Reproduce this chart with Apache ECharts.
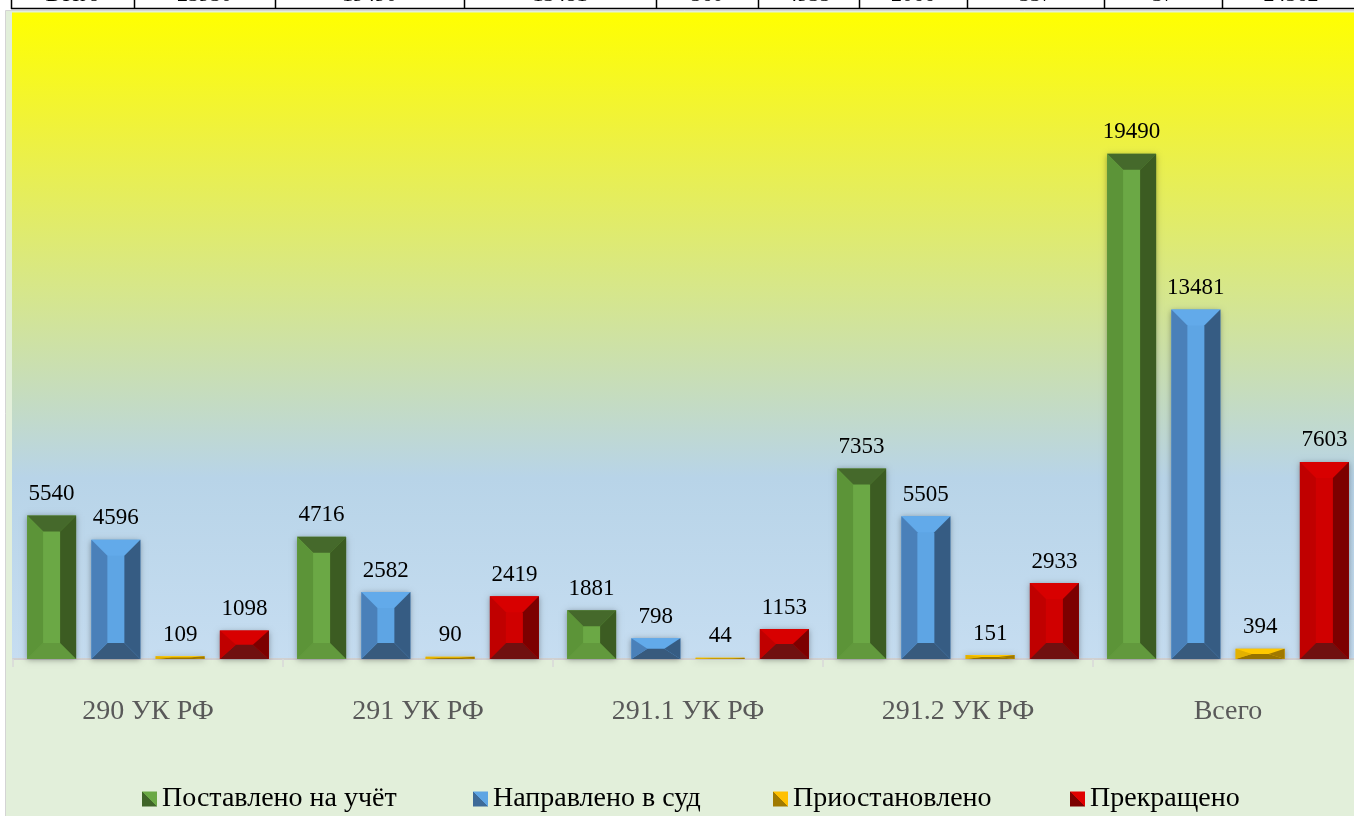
<!DOCTYPE html>
<html>
<head>
<meta charset="utf-8">
<script src="https://cdn.jsdelivr.net/npm/echarts@6/dist/echarts.min.js"></script>
<style>
  html, body { margin: 0; padding: 0; background: #fff; overflow: hidden; }
  #chart { width: 1363px; height: 816px; }
</style>
</head>
<body>
<div id="chart"></div>
<script>
  // данные диаграммы
  var categories = ['290 УК РФ', '291 УК РФ', '291.1 УК РФ', '291.2 УК РФ', 'Всего'];
  var seriesNames = ['Поставлено на учёт', 'Направлено в суд', 'Приостановлено', 'Прекращено'];
  var registered = [5540, 4716, 1881, 7353, 19490];
  var toCourt = [4596, 2582, 798, 5505, 13481];
  var suspended = [109, 90, 44, 151, 394];
  var terminated = [1098, 2419, 1153, 2933, 7603];
  // обрезанная строка таблицы сверху
  var tableCells = ['Всего', '25950', '19490', '13481', '560', '4935', '2066', '337', '37', '24562'];

  var allValues = [registered, toCourt, suspended, terminated];
  var tableColX = [11, 134, 275, 464, 656, 758, 859, 967, 1104, 1222, 1360];
  var legendLeft = [137, 468, 768, 1065];

  // цвета граней "скоса": верх, лево, центр, право, низ
  var faces = [
    { top: '#45692b', left: '#5c9438', mid: '#6ba845', right: '#3c5c22', bottom: '#62993d', dark: '#3f6428', light: '#6aa845' },
    { top: '#62aaea', left: '#4a80b9', mid: '#5ea5e4', right: '#365c83', bottom: '#385a7d', dark: '#3d6a98', light: '#5ea5e4' },
    { top: '#ffc800', left: '#e3b100', mid: '#f5c000', right: '#a07800', bottom: '#987300', dark: '#a07a00', light: '#ffc000' },
    { top: '#d80000', left: '#c00000', mid: '#d00000', right: '#7c0000', bottom: '#701010', dark: '#7c0000', light: '#e00000' }
  ];

  function iconGradient(f) {
    return new echarts.graphic.LinearGradient(0, 1, 1, 0, [
      { offset: 0, color: f.dark }, { offset: 0.5, color: f.dark },
      { offset: 0.5, color: f.light }, { offset: 1, color: f.light }
    ]);
  }

  function poly(pts, color) {
    return { type: 'polygon', shape: { points: pts }, style: { fill: color } };
  }

  function makeRender(si) {
    return function (params, api) {
      var ci = api.value(0), v = api.value(1);
      var base = api.coord([ci, 0]);
      var top = api.coord([ci, v]);
      var catW = api.size([1, 0])[0];
      var bw = catW * 0.1815, step = catW * 0.238;
      var cx = base[0] + (si - 1.5) * step;
      var x0 = cx - bw / 2, x1 = cx + bw / 2, yt = top[1], yb = base[1];
      var h = yb - yt;
      var bx = Math.min(16, bw / 2), by = Math.min(16, h / 2);
      var f = faces[si];
      return {
        type: 'group',
        children: [
          { type: 'rect', shape: { x: x0, y: yt, width: bw, height: h },
            style: { fill: f.mid, shadowBlur: 6, shadowColor: 'rgba(0,0,0,0.35)', shadowOffsetY: 1 } },
          poly([[x0, yt], [x1, yt], [x1 - bx, yt + by], [x0 + bx, yt + by]], f.top),
          poly([[x0, yb], [x1, yb], [x1 - bx, yb - by], [x0 + bx, yb - by]], f.bottom),
          poly([[x0, yt], [x0 + bx, yt + by], [x0 + bx, yb - by], [x0, yb]], f.left),
          poly([[x1, yt], [x1 - bx, yt + by], [x1 - bx, yb - by], [x1, yb]], f.right),
          { type: 'text', x: cx, y: yt - 10,
            style: { text: String(v), fill: '#000', font: '23px "Liberation Serif"', align: 'center', verticalAlign: 'bottom' } }
        ]
      };
    };
  }

  var graphics = [
    { type: 'rect', z: -100, silent: true, shape: { x: 5.5, y: 10.5, width: 1400, height: 820 },
      style: { fill: '#e2efda', stroke: '#d4d4d4', lineWidth: 1 } },
    { type: 'rect', z: -90, silent: true, shape: { x: 12, y: 12.5, width: 1400, height: 646.5 },
      style: { fill: new echarts.graphic.LinearGradient(0, 0, 0, 1, [
        { offset: 0, color: '#ffff00' },
        { offset: 0.18, color: '#eff23c' },
        { offset: 0.44, color: '#d5e68e' },
        { offset: 0.72, color: '#b8d4e8' },
        { offset: 1, color: '#c6ddf1' }
      ]) } },
    { type: 'line', z: -80, silent: true, shape: { x1: 11, y1: 8.5, x2: 1363, y2: 8.5 },
      style: { stroke: '#000', lineWidth: 1.5 } }
  ];
  for (var i = 0; i < tableColX.length - 1; i++) {
    graphics.push({ type: 'line', z: -80, silent: true,
      shape: { x1: tableColX[i] + 0.5, y1: 0, x2: tableColX[i] + 0.5, y2: 9 },
      style: { stroke: '#000', lineWidth: 1.5 } });
    graphics.push({ type: 'text', z: -80, silent: true,
      x: (tableColX[i] + tableColX[i + 1]) / 2, y: 6.5,
      style: { text: tableCells[i], fill: '#000', font: '22px "Liberation Serif"', align: 'center', verticalAlign: 'bottom' } });
  }

  var chart = echarts.init(document.getElementById('chart'));
  chart.setOption({
    animation: false,
    backgroundColor: '#fff',
    graphic: { elements: graphics },
    grid: { left: 13, top: 11, right: 0, height: 648 },
    legend: seriesNames.map(function (n, k) {
      return {
        left: legendLeft[k],
        top: 780,
        itemWidth: 15,
        itemHeight: 15,
        icon: 'rect',
        textStyle: { fontFamily: 'Liberation Serif', fontSize: 28, color: '#000' },
        data: [{ name: n, itemStyle: { color: iconGradient(faces[k]) } }]
      };
    }),
    xAxis: {
      type: 'category',
      data: categories,
      axisLine: { lineStyle: { color: '#d0d0d0', width: 2 } },
      axisTick: { show: true, length: 8, lineStyle: { color: '#d9d9d9', width: 1.5 } },
      axisLabel: { margin: 39, fontFamily: 'Liberation Serif', fontSize: 28, color: '#595959' }
    },
    yAxis: {
      type: 'value', min: 0, max: 25000, show: false, splitLine: { show: false }
    },
    series: seriesNames.map(function (n, k) {
      return {
        name: n,
        type: 'custom',
        renderItem: makeRender(k),
        itemStyle: { color: iconGradient(faces[k]) },
        encode: { x: 0, y: 1 },
        data: allValues[k].map(function (v, j) { return [j, v]; })
      };
    })
  });
</script>
</body>
</html>
